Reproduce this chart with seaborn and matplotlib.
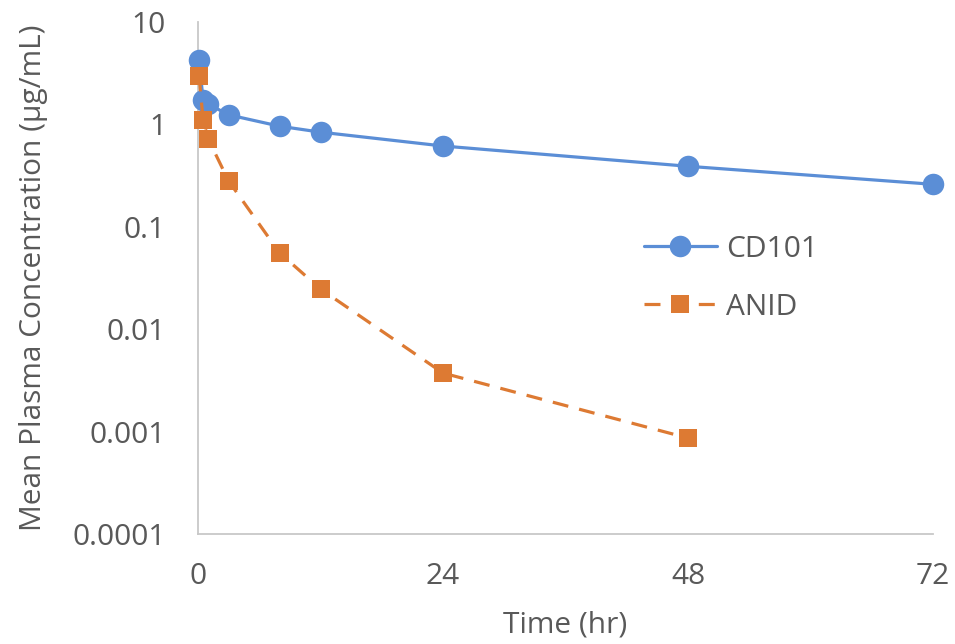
import matplotlib
matplotlib.use("Agg")
import matplotlib.pyplot as plt
import seaborn as sns
import pandas as pd
from matplotlib.ticker import FixedLocator, FixedFormatter, NullLocator

# Data
cd101_time = [0.1, 0.5, 1, 3, 8, 12, 24, 48, 72]
cd101_conc = [4.25, 1.73, 1.58, 1.24, 0.96, 0.84, 0.615, 0.39, 0.26]
anid_time = [0.1, 0.5, 1, 3, 8, 12, 24, 48]
anid_conc = [3.0, 1.1, 0.72, 0.28, 0.0555, 0.0247, 0.00373, 0.000865]
x_ticks = [0, 24, 48, 72]
y_ticks = [0.0001, 0.001, 0.01, 0.1, 1, 10]
y_tick_labels = ["0.0001", "0.001", "0.01", "0.1", "1", "10"]

sns.set_style("white")
plt.rcParams['font.family'] = ['Open Sans', 'DejaVu Sans']

blue = "#5B8ED6"
orange = "#DD7A33"
text_gray = "#595959"
axis_gray = "#C8C8C8"
fs = 21.5

fig = plt.figure(figsize=(9.55, 6.44), dpi=100)
ax = fig.add_axes([198/955, 110/644, 735/955, 512/644])

df1 = pd.DataFrame({"t": cd101_time, "c": cd101_conc})
df2 = pd.DataFrame({"t": anid_time, "c": anid_conc})

sns.lineplot(data=df1, x="t", y="c", ax=ax, color=blue, linewidth=2.3,
             marker="o", markersize=15.5, markeredgewidth=0, label="CD101",
             clip_on=False, zorder=3)
sns.lineplot(data=df2, x="t", y="c", ax=ax, color=orange, linewidth=2.3,
             marker="s", markersize=13.5, markeredgewidth=0, label="ANID",
             clip_on=False, zorder=4)
ax.lines[1].set_dashes([5, 3.5])

ax.set_yscale("log")
ax.set_xlim(0, 72)
ax.set_ylim(0.0001, 10)
ax.xaxis.set_major_locator(FixedLocator(x_ticks))
ax.set_xticklabels([str(v) for v in x_ticks])
ax.yaxis.set_major_locator(FixedLocator(y_ticks))
ax.yaxis.set_major_formatter(FixedFormatter(y_tick_labels))
ax.yaxis.set_minor_locator(NullLocator())

for s in ["top", "right"]:
    ax.spines[s].set_visible(False)
for s in ["left", "bottom"]:
    ax.spines[s].set_color(axis_gray)
    ax.spines[s].set_linewidth(1.3)

ax.tick_params(axis="both", which="major", direction="out", length=8,
               width=1.3, color=axis_gray, labelsize=fs, labelcolor=text_gray)
ax.tick_params(axis="x", pad=12)
ax.tick_params(axis="y", pad=15)

ax.set_xlabel("Time (hr)", fontsize=fs, color=text_gray, labelpad=14)
ax.set_ylabel("Mean Plasma Concentration (µg/mL)", fontsize=fs, color=text_gray, labelpad=18)

leg = ax.legend(loc="upper left", bbox_to_anchor=(617/955, 1 - 208/644),
                bbox_transform=fig.transFigure, frameon=False, fontsize=fs,
                handlelength=2.45, labelspacing=0.97, handletextpad=0.3)
for t in leg.get_texts():
    t.set_color(text_gray)

fig.savefig("out.png", dpi=100)
